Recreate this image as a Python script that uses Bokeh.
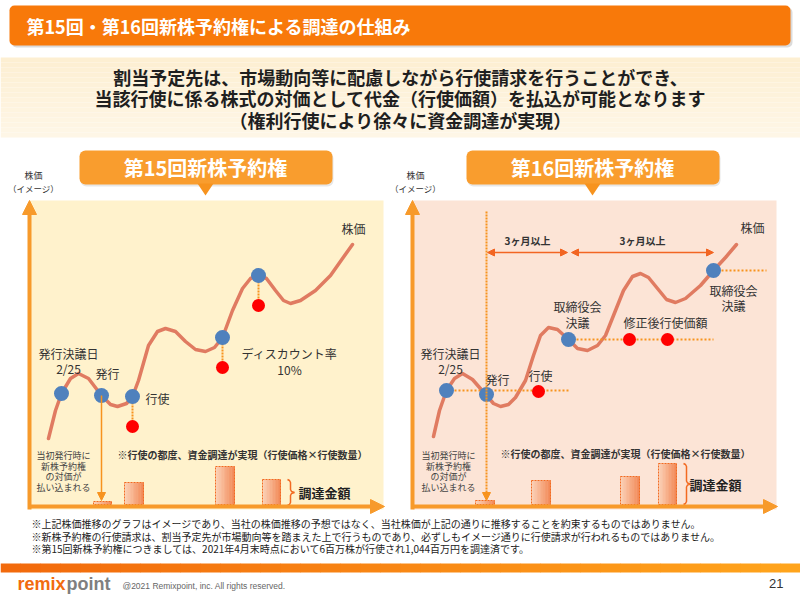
from bokeh.plotting import figure
from bokeh.models import Range1d, Arrow, NormalHead, BoxAnnotation
from bokeh.core.properties import value
from bokeh.embed import file_html
from bokeh.resources import INLINE

JP = value("Noto Sans CJK JP")
SANS = value("Liberation Sans")

# ---------------- data (in page pixels) ----------------
title_text = "第15回・第16回新株予約権による調達の仕組み"
header_lines = ["割当予定先は、市場動向等に配慮しながら行使請求を行うことができ、",
                "当該行使に係る株式の対価として代金（行使価額）を払込が可能となります",
                "（権利行使により徐々に資金調達が実現）"]
banner_texts = ["第15回新株予約権", "第16回新株予約権"]
note_lines = ["当初発行時に", "新株予約権", "の対価が", "払い込まれる"]
realize_text = "※行使の都度、資金調達が実現（行使価格×行使数量）"
amount_text = "調達金額"
footnotes = ["※上記株価推移のグラフはイメージであり、当社の株価推移の予想ではなく、当社株価が上記の通りに推移することを約束するものではありません。",
             "※新株予約権の行使請求は、割当予定先が市場動向等を踏まえた上で行うものであり、必ずしもイメージ通りに行使請求が行われるものではありません。",
             "※第15回新株予約権につきましては、2021年4月末時点において6百万株が行使され1,044百万円を調達済です。"]

# left panel (第15回) stock price curve
l_curve_x = [48, 55, 61, 70, 78, 88, 101, 110, 117, 126, 132, 138, 148, 157, 165, 175, 185, 195, 205, 214,
             222, 232, 242, 250, 258, 266, 275, 283, 290, 300, 315, 330, 342, 352]
l_curve_y = [438, 410, 393, 378, 373, 378, 395, 404, 406, 403, 396, 380, 345, 331, 328, 331, 341, 349, 351, 347,
             337, 310, 288, 278, 275, 278, 290, 300, 303, 300, 290, 275, 258, 244]
l_blue_x = [61, 101, 132, 222, 258]
l_blue_y = [393, 395, 396, 337, 275]
l_red_x = [132, 222, 258]
l_red_y = [426, 367, 305]
l_red_from_y = [396, 337, 275]
l_bar_x0 = [93, 124, 215, 262]
l_bar_x1 = [111, 143, 234, 280]
l_bar_top = [501, 482, 466, 479]

# right panel (第16回) stock price curve
r_curve_x = [433, 439, 446, 454, 462, 472, 486, 493, 500, 508, 515, 525, 533, 540, 548, 557, 568, 577, 587, 597,
             605, 615, 623, 632, 640, 648, 657, 666, 675, 685, 700, 713, 725, 736]
r_curve_y = [436, 410, 390, 378, 373, 379, 395, 403, 406, 404, 397, 380, 355, 335, 327, 329, 339, 348, 350, 345,
             335, 310, 290, 276, 273, 277, 288, 299, 302, 298, 285, 270, 257, 244]
r_blue_x = [446, 486, 568, 713]
r_blue_y = [390, 394, 339, 270]
r_red_x = [538, 629, 667]
r_red_y = [391, 339, 339]
r_level_x0 = [446, 568, 713]
r_level_x1 = [568, 713, 766]
r_level_y = [390, 339, 270]
r_bar_x0 = [475, 531, 620, 658]
r_bar_x1 = [494, 550, 639, 676]
r_bar_top = [500, 480, 476, 463]
period_x0 = [487, 571]
period_x1 = [567, 713]
period_label = ["3ヶ月以上", "3ヶ月以上"]

# ---------------- figure ----------------
p = figure(width=800, height=597, x_range=Range1d(0, 800), y_range=Range1d(597, 0),
           output_backend="svg", toolbar_location=None, min_border=0,
           x_axis_type=None, y_axis_type=None)
p.grid.visible = False
p.outline_line_color = None
p.background_fill_color = "white"
p.border_fill_color = "white"


def txt(x, y, s, size, color="#333333", align="center", bold=False, font=JP, baseline="middle"):
    p.text(x=[x], y=[y], text=[s], text_font=font, text_font_size=f"{size}px", text_color=color,
           text_align=align, text_baseline=baseline, text_font_style="bold" if bold else "normal")


def lerp_color(c1, c2, t):
    a = [int(c1[i:i + 2], 16) for i in (1, 3, 5)]
    b = [int(c2[i:i + 2], 16) for i in (1, 3, 5)]
    return "#%02x%02x%02x" % tuple(round(a[k] + (b[k] - a[k]) * t) for k in range(3))


def rbox(l, r, t, b, color, alpha=1.0, radius=5):
    p.add_layout(BoxAnnotation(left=l, right=r, top=t, bottom=b, fill_color=color, fill_alpha=alpha,
                               line_color=None, border_radius=radius, level="underlay"))


# title bar
rbox(11, 792, 7, 47, "#999999", 0.35)
rbox(9, 790, 5, 45, "#F8790A")
txt(26, 25, title_text, 18, "white", align="left", bold=True)

# header band
n = 16
for k in range(n):
    p.quad(left=[0], right=[800], top=[57 + k * 5], bottom=[57 + (k + 1) * 5],
           fill_color=lerp_color("#FDEFD2", "#FEF6E6", k / (n - 1)), line_color=None)
for i, s in enumerate(header_lines):
    txt(400, 76 + i * 21.5, s, 18, "#1F1F1F", bold=True)

# panels
p.quad(left=[29], right=[383], top=[200], bottom=[509], fill_color="#FFF2CC", line_color=None)
p.quad(left=[412], right=[776], top=[200], bottom=[509], fill_color="#FCE4D6", line_color=None)

# banners
for cx, s in zip([205, 592], banner_texts):
    rbox(cx - 125, cx + 128, 152, 186, "#BBBBBB", 0.35, 6)
    rbox(cx - 126, cx + 127, 150, 184, "#F99D2E", 1.0, 6)
    p.patch([cx - 8, cx + 8, cx], [183, 183, 195], fill_color="#F7931E", line_color=None)
    txt(cx, 167, s, 20, "white", bold=True)

# axis labels
for ax in [33, 415]:
    txt(ax, 175, "株価", 9, "#333333")
    txt(ax, 187, "（イメージ）", 8.5, "#333333")

AX = "#F79A2B"
# axes arrows
for x0, x1 in [(29, 384), (412, 777)]:
    p.add_layout(Arrow(end=NormalHead(size=14, fill_color=AX, line_color=AX), x_start=x0, y_start=509,
                       x_end=x0, y_end=200, line_color=AX, line_width=4))
    p.add_layout(Arrow(end=NormalHead(size=14, fill_color=AX, line_color=AX), x_start=x0, y_start=506,
                       x_end=x1, y_end=506, line_color=AX, line_width=4))


# bars with gradient and dashed border
def bars(x0s, x1s, tops, bottom):
    m = 12
    for x0, x1, t in zip(x0s, x1s, tops):
        w = (x1 - x0) / m
        for k in range(m):
            p.quad(left=[x0 + k * w], right=[x0 + (k + 1) * w + 0.4], top=[t], bottom=[bottom],
                   fill_color=lerp_color("#FBD0B6", "#F28A58", k / (m - 1)), line_color=None)
    p.quad(left=x0s, right=x1s, top=tops, bottom=[bottom] * len(x0s), fill_color=None,
           line_color="#F26A21", line_dash="2 1", line_width=1)


bars(l_bar_x0, l_bar_x1, l_bar_top, 504)
bars(r_bar_x0, r_bar_x1, r_bar_top, 504)


def brace(x, top, bottom, color="#F26A21"):
    mid = (top + bottom) / 2
    xs = [x, x + 2, x + 3, x + 3, x + 4, x + 7, x + 4, x + 3, x + 3, x + 2, x]
    ys = [top, top + 1, top + 3, mid - 3, mid - 1, mid, mid + 1, mid + 3, bottom - 3, bottom - 1, bottom]
    p.line(xs, ys, line_color=color, line_width=1.5)


brace(l_bar_x1[-1] + 7, l_bar_top[-1], 505)
txt(l_bar_x1[-1] + 18, (l_bar_top[-1] + 505) / 2, amount_text, 13, "#222222", align="left", bold=True)
brace(r_bar_x1[-1] + 7, r_bar_top[-1], 504)
txt(r_bar_x1[-1] + 13, (r_bar_top[-1] + 504) / 2, amount_text, 13, "#222222", align="left", bold=True)

# notes
for cx in [63, 448]:
    for i, s in enumerate(note_lines):
        txt(cx, 455 + i * 10.5, s, 9, "#444444")
txt(242, 454, realize_text, 10, "#333333", bold=True)
txt(625, 453, realize_text, 10, "#333333", bold=True)

# curves
CURVE = "#E07B61"
p.line(l_curve_x, l_curve_y, line_color=CURVE, line_width=3.5, line_join="round", line_cap="round")
p.line(r_curve_x, r_curve_y, line_color=CURVE, line_width=3.5, line_join="round", line_cap="round")

DOT = "#F7931E"
# left: payment arrow and discount drops
p.add_layout(Arrow(end=NormalHead(size=8, fill_color=DOT, line_color=DOT), x_start=l_blue_x[1], y_start=l_blue_y[1],
                   x_end=l_blue_x[1], y_end=500, line_color=DOT, line_width=1.5))
p.segment(x0=l_red_x, y0=l_red_from_y, x1=l_red_x, y1=l_red_y, line_color=DOT, line_width=2, line_dash="2 1")

# right: dotted guide, level lines, period arrows
p.add_layout(Arrow(end=NormalHead(size=8, fill_color=DOT, line_color=DOT), x_start=r_blue_x[1], y_start=211,
                   x_end=r_blue_x[1], y_end=500, line_color=DOT, line_width=2, line_dash="2 1"))
p.segment(x0=r_level_x0, y0=r_level_y, x1=r_level_x1, y1=r_level_y, line_color=DOT, line_width=2, line_dash="2 2")
ARR = "#F26522"
for x0, x1, s in zip(period_x0, period_x1, period_label):
    p.add_layout(Arrow(start=NormalHead(size=7, fill_color=ARR, line_color=ARR),
                       end=NormalHead(size=7, fill_color=ARR, line_color=ARR),
                       x_start=x0, y_start=252, x_end=x1, y_end=252, line_color=ARR, line_width=1.5))
    txt((x0 + x1) / 2, 240, s, 10, "#333333", bold=True)

# dots
p.scatter(l_blue_x, l_blue_y, size=15, fill_color="#4F81BD", line_color=None)
p.scatter(l_red_x, l_red_y, size=13, fill_color="#FF0000", line_color=None)
p.scatter(r_blue_x, r_blue_y, size=15, fill_color="#4F81BD", line_color=None)
p.scatter(r_red_x, r_red_y, size=13, fill_color="#FF0000", line_color=None)

# labels left
LBL = "#333333"
txt(353, 228, "株価", 12, LBL)
txt(68, 353, "発行決議日", 12, LBL)
txt(68, 368, "2/25", 12, LBL)
txt(107, 373, "発行", 12, LBL)
txt(157, 398, "行使", 12, LBL)
txt(289, 353, "ディスカウント率", 12, LBL)
txt(289, 369, "10%", 12, LBL)
# labels right
txt(752, 227, "株価", 12, LBL)
txt(450, 353, "発行決議日", 12, LBL)
txt(450, 368, "2/25", 12, LBL)
txt(497, 379, "発行", 12, LBL)
txt(540, 375, "行使", 12, LBL)
txt(577, 306, "取締役会", 12, LBL)
txt(577, 322, "決議", 12, LBL)
txt(665, 322, "修正後行使価額", 12, LBL)
txt(733, 290, "取締役会", 12, LBL)
txt(733, 305, "決議", 12, LBL)

# footnotes
for i, s in enumerate(footnotes):
    txt(31, 523 + i * 12.5, s, 10, "#222222", align="left")

# footer bar
m = 40
for k in range(m):
    p.quad(left=[k * 20], right=[(k + 1) * 20 + 0.5], top=[563], bottom=[572],
           fill_color=lerp_color("#F26A0C", "#FFA41C", k / (m - 1)), line_color=None)
txt(17, 583, "remix", 18, "#F26B0F", align="left", bold=True, font=SANS)
txt(110, 583, "point", 18, "#7F7F7F", align="right", bold=True, font=SANS)
txt(122, 585, "@2021 Remixpoint, inc. All rights reserved.", 8.5, "#666666", align="left", font=SANS)
txt(783, 583, "21", 13, "#333333", align="right", font=SANS)

open("out.html", "w").write(file_html(p, INLINE))
